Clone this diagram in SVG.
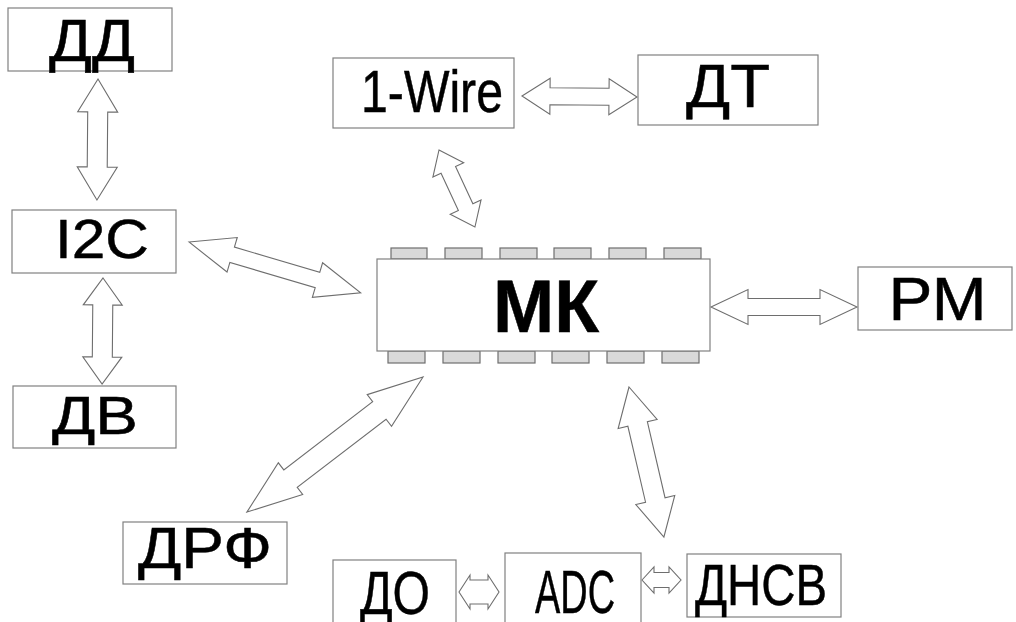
<svg xmlns="http://www.w3.org/2000/svg" width="1016" height="622" viewBox="0 0 1016 622">
  <style>
    .box { fill: #ffffff; stroke: #808080; stroke-width: 1.2; }
    .pin { fill: #d9d9d9; stroke: #6e6e6e; stroke-width: 1.2; }
    .lbl { font-family: "Liberation Sans", Arial, sans-serif; fill: #000000; text-anchor: middle; stroke: #000000; stroke-width: 0.5; }
    .bus polygon { fill: #ffffff; stroke: #6e6e6e; stroke-width: 1.1; stroke-linejoin: miter; }
  </style>

  <rect width="1016" height="622" fill="#ffffff"/>

  <!-- double-headed bus arrows: tip at the origin, pointing along +x, then placed -->
  <g id="connectors" class="bus">
    <polygon transform="translate(98,79) rotate(90.5)" points="0,0 33,-20 33,-10 88,-10 88,-20 121,0 88,20 88,10 33,10 33,20"/>
    <polygon transform="translate(103,278) rotate(90.5)" points="0,0 27,-19.5 27,-10 79,-10 79,-19.5 106,0 79,19.5 79,10 27,10 27,19.5"/>
    <polygon transform="translate(189,242) rotate(16.5)" points="0,0 45,-18 45,-8 134,-8 134,-18 179,0 134,18 134,8 45,8 45,18"/>
    <polygon transform="translate(439,150) rotate(65)" points="0,0 22,-17 22,-8 63,-8 63,-17 85,0 63,17 63,8 22,8 22,17"/>
    <polygon transform="translate(522,96) rotate(0.5)" points="0,0 28,-18 28,-8.5 87,-8.5 87,-18 115,0 87,18 87,8.5 28,8.5 28,18"/>
    <polygon transform="translate(711,307)" points="0,0 37,-17.5 37,-8.5 109,-8.5 109,-17.5 146,0 109,17.5 109,8.5 37,8.5 37,17.5"/>
    <polygon transform="translate(423,377) rotate(142.5)" points="0,0 55,-20 55,-11 167,-11 167,-20 222,0 167,20 167,11 55,11 55,20"/>
    <polygon transform="translate(629,387) rotate(76.9)" points="0,0 38,-20 38,-10 116,-10 116,-20 154,0 116,20 116,10 38,10 38,20"/>
    <polygon transform="translate(459,592)" points="0,0 11,-17 11,-12 29,-12 29,-17 40,0 29,17 29,12 11,12 11,17"/>
    <polygon transform="translate(642,580)" points="0,0 12,-13 12,-7.5 27,-7.5 27,-13 39,0 27,13 27,7.5 12,7.5 12,13"/>
  </g>

  <g id="node-dd">
    <rect class="box" x="8" y="8" width="164" height="63"/>
    <text class="lbl" x="92" y="61" font-size="60" stroke-width="1.1" textLength="86" lengthAdjust="spacingAndGlyphs">ДД</text>
  </g>

  <g id="node-i2c">
    <rect class="box" x="12" y="210" width="164" height="63"/>
    <text class="lbl" x="102" y="258" font-size="56" textLength="94" lengthAdjust="spacingAndGlyphs">I2C</text>
  </g>

  <g id="node-dv">
    <rect class="box" x="13" y="386" width="163" height="62"/>
    <text class="lbl" x="95" y="434" font-size="54" textLength="86" lengthAdjust="spacingAndGlyphs">ДВ</text>
  </g>

  <g id="node-1wire">
    <rect class="box" x="333" y="58" width="181" height="70"/>
    <text class="lbl" x="432" y="112" font-size="60" textLength="142" lengthAdjust="spacingAndGlyphs">1-Wire</text>
  </g>

  <g id="node-dt">
    <rect class="box" x="638" y="55" width="180" height="70"/>
    <text class="lbl" x="728" y="107" font-size="61" textLength="84" lengthAdjust="spacingAndGlyphs">ДТ</text>
  </g>

  <g id="node-mk">
    <rect class="pin" x="391" y="248" width="36" height="11"/>
    <rect class="pin" x="445" y="248" width="37" height="11"/>
    <rect class="pin" x="500" y="248" width="37" height="11"/>
    <rect class="pin" x="554" y="248" width="37" height="11"/>
    <rect class="pin" x="609" y="248" width="37" height="11"/>
    <rect class="pin" x="664" y="248" width="37" height="11"/>
    <rect class="pin" x="388" y="351" width="37" height="12"/>
    <rect class="pin" x="443" y="351" width="37" height="12"/>
    <rect class="pin" x="498" y="351" width="37" height="12"/>
    <rect class="pin" x="552" y="351" width="37" height="12"/>
    <rect class="pin" x="607" y="351" width="37" height="12"/>
    <rect class="pin" x="662" y="351" width="37" height="12"/>
    <rect class="box" x="377" y="259" width="333" height="92"/>
    <text class="lbl" x="546" y="332" font-size="74" font-weight="bold" textLength="106" lengthAdjust="spacingAndGlyphs">МК</text>
  </g>

  <g id="node-rm">
    <rect class="box" x="858" y="267" width="154" height="63"/>
    <text class="lbl" x="937.5" y="320" font-size="61" textLength="98" lengthAdjust="spacingAndGlyphs">РМ</text>
  </g>

  <g id="node-drf">
    <rect class="box" x="123" y="522" width="164" height="62"/>
    <text class="lbl" x="205" y="568" font-size="58" textLength="134" lengthAdjust="spacingAndGlyphs">ДРФ</text>
  </g>

  <g id="node-do">
    <rect class="box" x="333" y="560" width="123" height="70"/>
    <text class="lbl" x="395" y="614" font-size="62" textLength="70" lengthAdjust="spacingAndGlyphs">ДО</text>
  </g>

  <g id="node-adc">
    <rect class="box" x="505" y="553" width="136" height="77"/>
    <text class="lbl" x="575" y="613" font-size="61" textLength="80" lengthAdjust="spacingAndGlyphs">ADC</text>
  </g>

  <g id="node-dnsv">
    <rect class="box" x="687" y="554" width="154" height="63"/>
    <text class="lbl" x="761" y="605" font-size="58" textLength="132" lengthAdjust="spacingAndGlyphs">ДНСВ</text>
  </g>
</svg>
